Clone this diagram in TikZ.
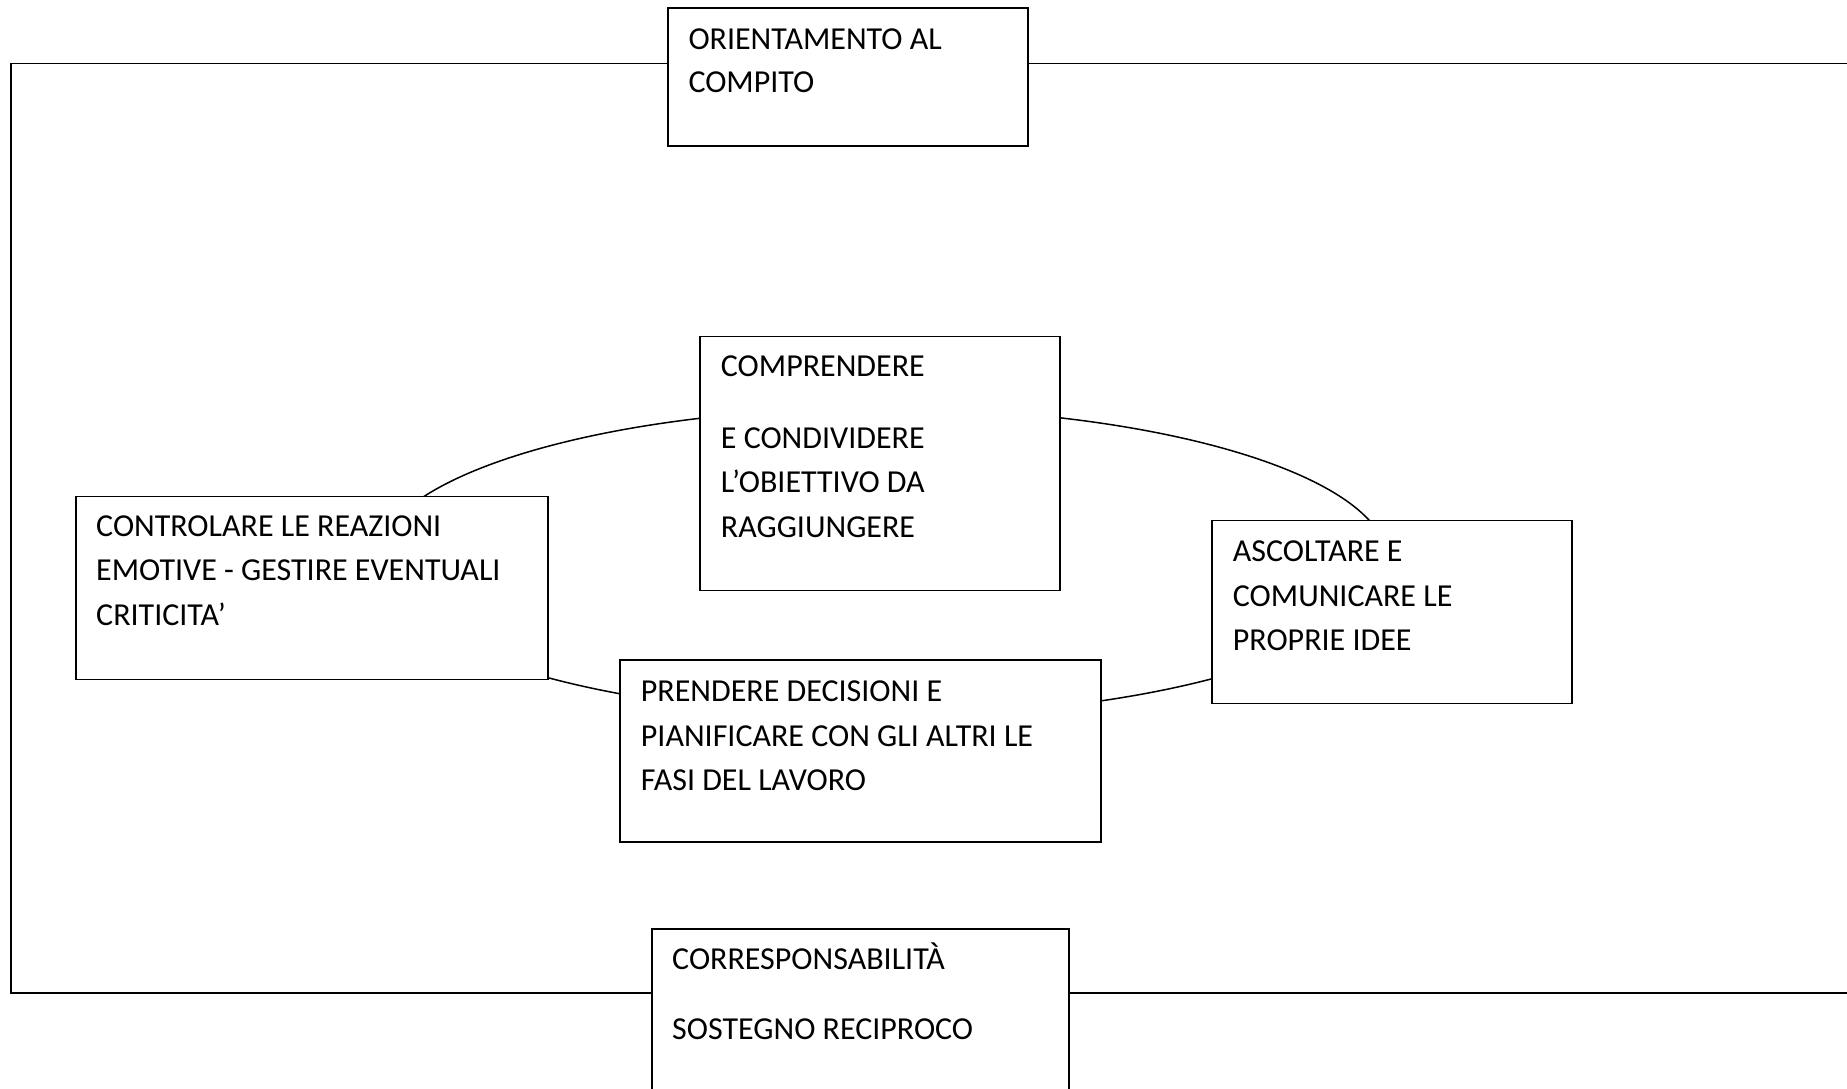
\documentclass[tikz,border=0pt]{standalone}
\usepackage{fontspec}
\setmainfont{Carlito}
\begin{document}
\begin{tikzpicture}[x=1pt,y=-1pt,
  box/.style={draw=black,line width=1.8pt,fill=white,anchor=north west,inner sep=0pt},
  txt/.style={anchor=base west,inner sep=0pt,font=\fontsize{32}{44.5}\selectfont},
  ring/.style={draw=black,line width=1.5pt}]
\useasboundingbox (0,0) rectangle (1847,1088);
\clip (0,0) rectangle (1847,1088);
\fill[white] (0,0) rectangle (1847,1088);
% outer frame (open on the right)
\coordinate (frTR) at (1860,63.5);
\coordinate (frTL) at (11,63.5);
\coordinate (frBL) at (11,993);
\coordinate (frBR) at (1860,993);
\draw[line width=1.8pt] (frTR) -- (frTL) -- (frBL) -- (frBR);
% ellipse ring
\coordinate (ringC) at (882,562);
\draw[ring] (ringC) ellipse [x radius=506, y radius=154];
% boxes
\node[box,minimum width=360pt,minimum height=138pt] (top) at (667,7) {};
\node[box,minimum width=360pt,minimum height=254pt] (comp) at (699,335.5) {};
\node[box,minimum width=472pt,minimum height=183pt] (ctrl) at (74.7,495.5) {};
\node[box,minimum width=360pt,minimum height=183pt] (asc) at (1211.3,519.5) {};
\node[box,minimum width=481pt,minimum height=182pt] (pren) at (619,659.3) {};
\node[box,minimum width=416.5pt,minimum height=200pt] (cor) at (651.3,928) {};
% texts
\node[txt] (topA) at (688.3,49.3) {ORIENTAMENTO AL};
\node[txt] (topB) at (688.3,92.7) {COMPITO};
\node[txt] (compA) at (720.7,376.7) {COMPRENDERE};
\node[txt] (compB) at (720.7,448.3) {E CONDIVIDERE};
\node[txt] (compC) at (720.7,492.7) {L’OBIETTIVO DA};
\node[txt] (compD) at (720.7,537.3) {RAGGIUNGERE};
\node[txt] (ctrlA) at (96,536.7) {CONTROLARE LE REAZIONI};
\node[txt] (ctrlB) at (96,580.9) {EMOTIVE - GESTIRE EVENTUALI};
\node[txt] (ctrlC) at (96,625.5) {CRITICITA’};
\node[txt] (ascA) at (1232.7,561) {ASCOLTARE E};
\node[txt] (ascB) at (1232.7,606) {COMUNICARE LE};
\node[txt] (ascC) at (1232.7,650.7) {PROPRIE IDEE};
\node[txt] (prenA) at (640.7,701.7) {PRENDERE DECISIONI E};
\node[txt] (prenB) at (640.7,746.2) {PIANIFICARE CON GLI ALTRI LE};
\node[txt] (prenC) at (640.7,790.5) {FASI DEL LAVORO};
\node[txt] (corA) at (672,969.3) {CORRESPONSABILITÀ};
\node[txt] (corB) at (672,1039.3) {SOSTEGNO RECIPROCO};
\end{tikzpicture}
\end{document}
